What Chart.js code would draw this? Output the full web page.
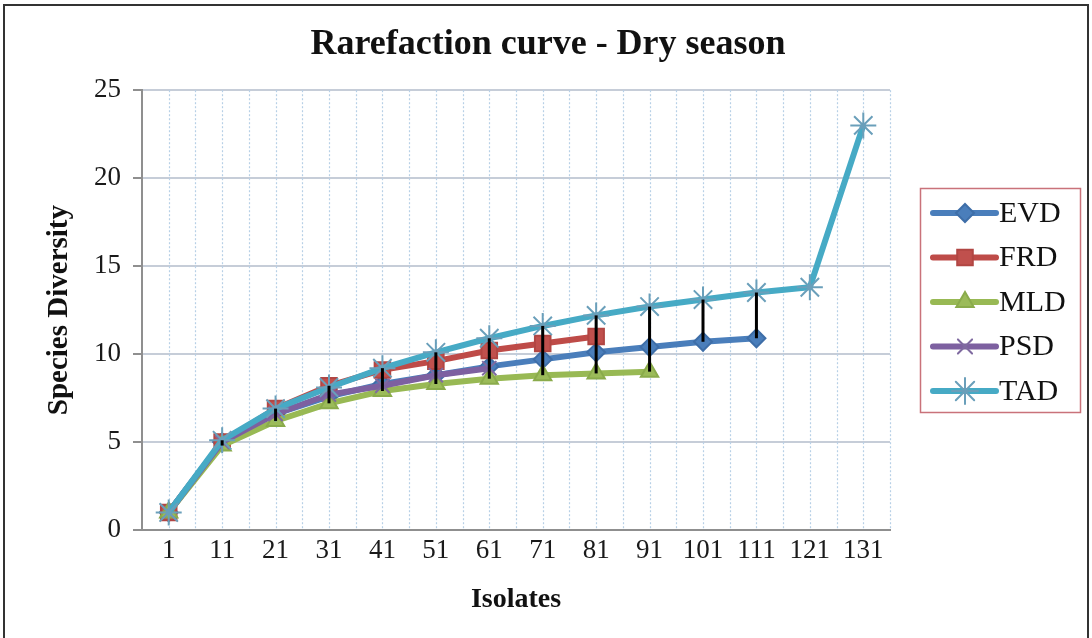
<!DOCTYPE html>
<html lang="en">
<head>
  <meta charset="UTF-8">
  <title>Rarefaction curve - Dry season</title>
  <script src="https://cdn.jsdelivr.net/npm/chart.js"></script>
  <style>
    html, body { margin: 0; padding: 0; background: #fff; }
    #wrap { width: 1092px; height: 638px; }
  </style>
</head>
<body>
  <div id="wrap"><canvas id="chart" width="1092" height="638"></canvas></div>

  <script>
    // data
    const isolates = ['1', '11', '21', '31', '41', '51', '61', '71', '81', '91', '101', '111', '121', '131'];
    const evd = [1, 5, 6.6, 7.6, 8.3, 8.8, 9.3, 9.7, 10.1, 10.4, 10.7, 10.9, null, null];
    const frd = [1, 5, 6.9, 8.2, 9.1, 9.6, 10.2, 10.6, 11.0, null, null, null, null, null];
    const mld = [1, 4.8, 6.2, 7.2, 7.9, 8.3, 8.6, 8.8, 8.9, 9.0, null, null, null, null];
    const psd = [1, 5, 6.6, 7.7, 8.2, 8.8, 9.2, null, null, null, null, null, null, null];
    const tad = [1, 5.1, 6.9, 8.1, 9.2, 10.1, 10.9, 11.6, 12.2, 12.7, 13.1, 13.5, 13.8, 23];
    const yTicks = [0, 5, 10, 15, 20, 25];

    const serif = "'Liberation Serif', 'Times New Roman', serif";

    function series(label, data, color, markerFill, markerLine, style, radius, order) {
      return {
        label, data, order,
        borderColor: color,
        borderWidth: 6,
        pointStyle: style,
        pointRadius: radius,
        pointBackgroundColor: markerFill,
        pointBorderColor: markerLine,
        pointBorderWidth: 2,
        tension: 0,
        spanGaps: false
      };
    }

    const datasets = [
      series('EVD', evd, '#4a7ebb', '#4a7ebb', '#3e6ea8', 'rectRot', 9, 5),
      series('FRD', frd, '#be4b48', '#c0504d', '#b14643', 'rect', 11, 4),
      series('MLD', mld, '#98b954', '#9bbb59', '#8aab4b', 'triangle', 10, 3),
      series('PSD', psd, '#7d60a0', '#7d60a0', '#7f6aa0', 'crossRot', 10, 2),
      series('TAD', tad, '#46aac5', '#46aac5', '#6a9fba', 'star', 13, 1)
    ];

    // dotted vertical grid (at each category and halfway between)
    const dottedGrid = {
      id: 'dottedGrid',
      beforeDatasetsDraw(chart) {
        const x = chart.scales.x, area = chart.chartArea, ctx = chart.ctx;
        const step = x.getPixelForValue(1) - x.getPixelForValue(0);
        ctx.save();
        ctx.strokeStyle = '#b7d0e6';
        ctx.lineWidth = 1.2;
        ctx.setLineDash([2, 2]);
        for (let i = 0; i < isolates.length; i++) {
          [x.getPixelForValue(i), x.getPixelForValue(i) + step / 2].forEach(px => {
            if (px > area.left + 1 && px < area.right + 1) {
              ctx.beginPath();
              ctx.moveTo(Math.round(px) + 0.5, area.top);
              ctx.lineTo(Math.round(px) + 0.5, area.bottom);
              ctx.stroke();
            }
          });
        }
        ctx.restore();
      }
    };

    // high-low lines joining the top and bottom series at each category
    const highLow = {
      id: 'highLow',
      afterDatasetsDraw(chart) {
        const x = chart.scales.x, y = chart.scales.y, ctx = chart.ctx;
        ctx.save();
        ctx.strokeStyle = '#000';
        ctx.lineWidth = 3;
        isolates.forEach((_, i) => {
          const vals = chart.data.datasets.map(d => d.data[i]).filter(v => v !== null);
          if (vals.length < 2) return;
          const px = x.getPixelForValue(i);
          ctx.beginPath();
          ctx.moveTo(px, y.getPixelForValue(Math.max(...vals)));
          ctx.lineTo(px, y.getPixelForValue(Math.min(...vals)));
          ctx.stroke();
        });
        ctx.restore();
      }
    };

    // legend box on the right, line sample + marker like the spreadsheet
    const sideLegend = {
      id: 'sideLegend',
      afterDraw(chart) {
        const ctx = chart.ctx;
        const box = { left: 920, top: 188, width: 160, height: 224 };
        ctx.save();
        ctx.strokeStyle = '#c9727a';
        ctx.lineWidth = 1.5;
        ctx.strokeRect(box.left + 0.5, box.top + 0.5, box.width, box.height);
        chart.data.datasets.forEach((d, i) => {
          const cy = box.top + 25 + i * 44.5;
          ctx.strokeStyle = d.borderColor;
          ctx.lineWidth = 6;
          ctx.lineCap = 'round';
          ctx.beginPath();
          ctx.moveTo(933, cy);
          ctx.lineTo(996, cy);
          ctx.stroke();
          ctx.fillStyle = d.pointBackgroundColor;
          ctx.strokeStyle = d.pointBorderColor;
          ctx.lineWidth = d.pointBorderWidth;
          Chart.helpers.drawPoint(ctx, { pointStyle: d.pointStyle, radius: d.pointRadius, rotation: 0, borderWidth: d.pointBorderWidth }, 965, cy);
          ctx.fillStyle = '#111';
          ctx.font = '30px ' + serif;
          ctx.textBaseline = 'middle';
          ctx.textAlign = 'left';
          ctx.fillText(d.label, 999, cy + 1);
        });
        // outer frame of the figure
        ctx.strokeStyle = '#333';
        ctx.lineWidth = 2;
        ctx.strokeRect(4, 5, 1084, 650);
        ctx.restore();
      }
    };

    new Chart(document.getElementById('chart'), {
      type: 'line',
      data: { labels: isolates, datasets },
      options: {
        responsive: false,
        animation: false,
        layout: { padding: { left: 4, right: 0, top: 8, bottom: 0 } },
        plugins: {
          legend: { display: false },
          tooltip: { enabled: false },
          title: {
            display: true,
            text: 'Rarefaction curve - Dry season',
            color: '#111',
            font: { family: serif, size: 36, weight: 'bold' },
            padding: { top: 15, bottom: 24 }
          }
        },
        scales: {
          x: {
            offset: true,
            grid: { display: false },
            border: { display: true, color: '#8f8f8f', width: 2 },
            ticks: { color: '#1a1a1a', font: { family: serif, size: 27 }, padding: -3, maxRotation: 0, autoSkip: false },
            title: { display: true, text: 'Isolates', color: '#111', font: { family: serif, size: 28, weight: 'bold' }, padding: { top: 0, bottom: 21 } },
            afterFit(s) { s.height = 108; }
          },
          y: {
            min: 0, max: 25,
            afterBuildTicks(s) { s.ticks = yTicks.map(v => ({ value: v })); },
            grid: { color: '#c6cdd8', lineWidth: 2, tickColor: '#8f8f8f', tickLength: 9, tickWidth: 2 },
            border: { display: true, color: '#8f8f8f', width: 2 },
            ticks: { color: '#1a1a1a', font: { family: serif, size: 27 }, padding: 12 },
            title: { display: true, text: 'Species Diversity', color: '#111', font: { family: serif, size: 29, weight: 'bold' }, padding: { top: 38, bottom: 0 } },
            afterFit(s) { s.width = 138; }
          },
          // empty axis on the right only keeps room for the legend box
          side: {
            position: 'right',
            display: true,
            grid: { drawOnChartArea: false, drawTicks: false },
            border: { display: false },
            ticks: { display: false },
            afterFit(s) { s.width = 202; }
          }
        }
      },
      plugins: [dottedGrid, highLow, sideLegend]
    });
  </script>
</body>
</html>
